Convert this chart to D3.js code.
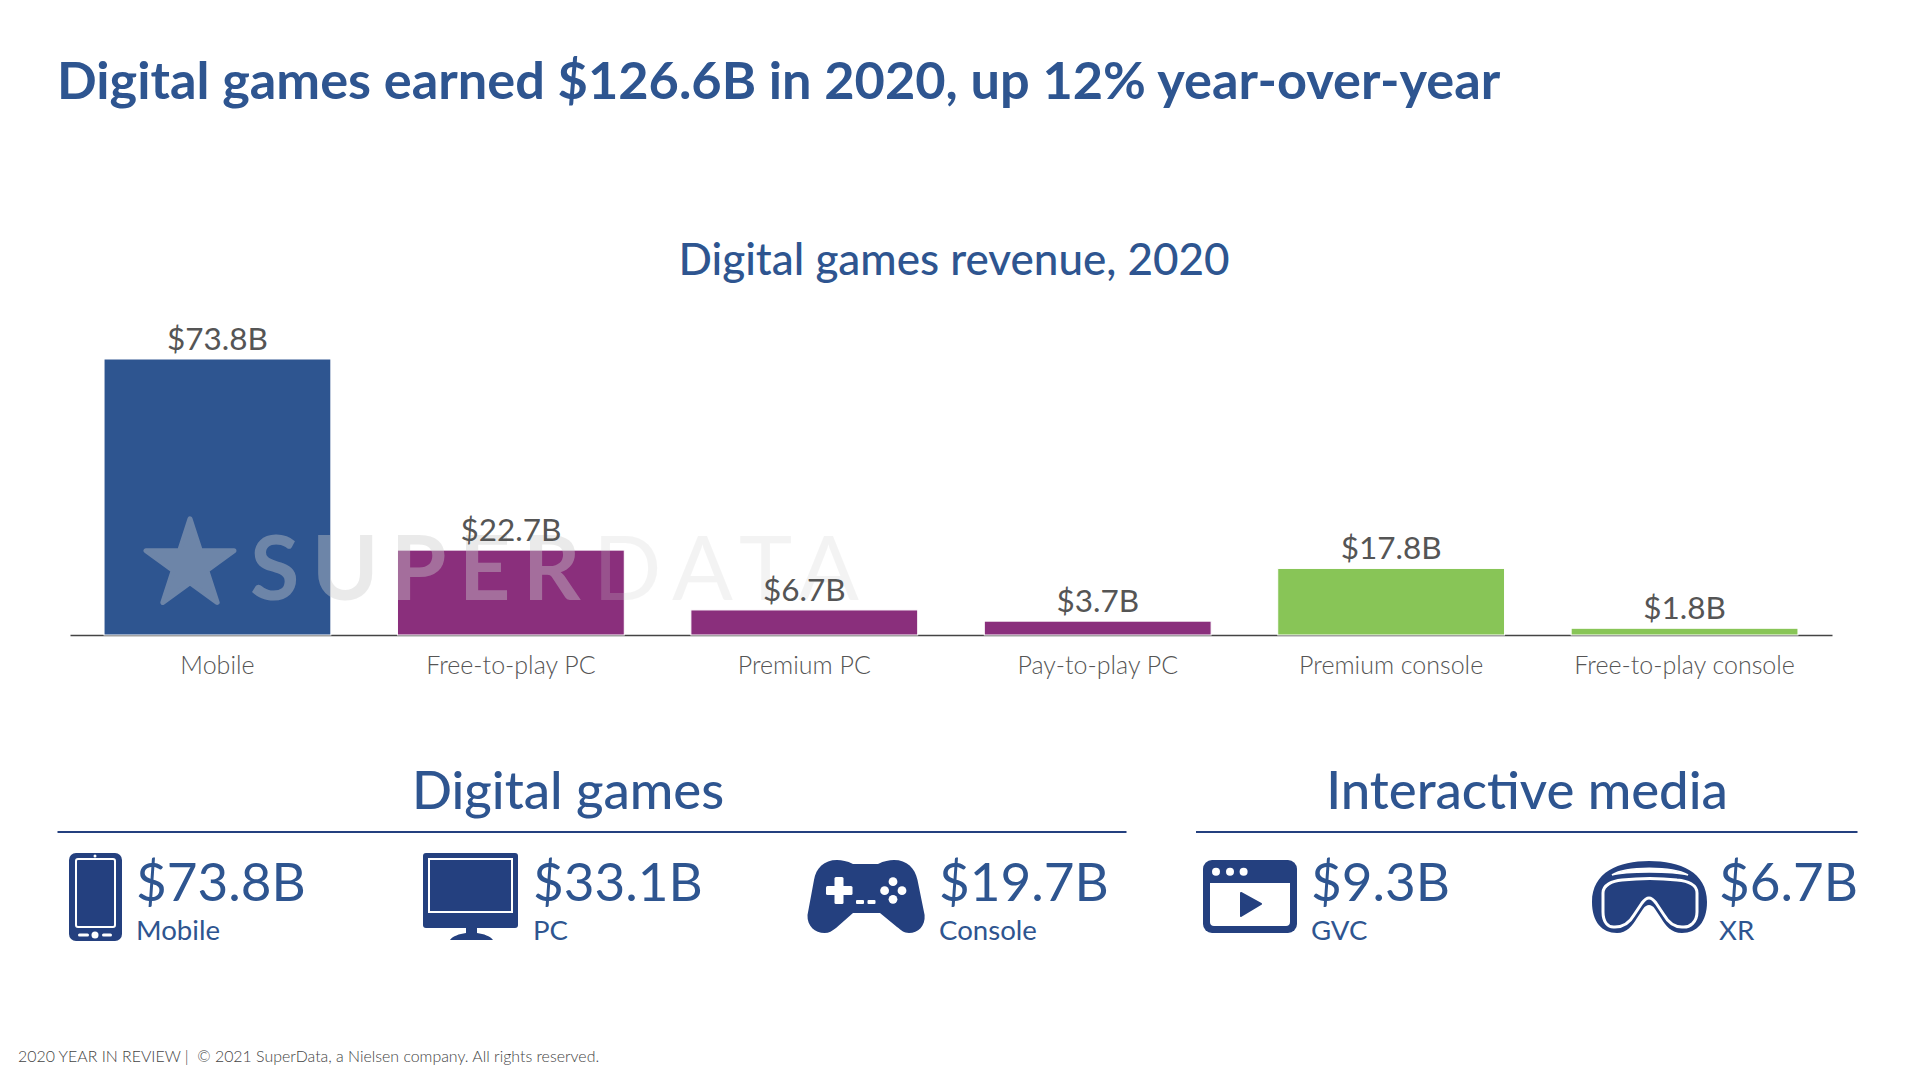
<!DOCTYPE html>
<html>
<head>
<meta charset="utf-8">
<script src="https://cdn.jsdelivr.net/npm/d3@7"></script>
<style>
  html, body { margin: 0; padding: 0; background: #fff; }
  svg { display: block; }
  text { font-family: Lato, "Open Sans", sans-serif; }
</style>
</head>
<body>
<svg id="chart" width="1920" height="1078"></svg>
<script>
var categories = ['Mobile', 'Free-to-play PC', 'Premium PC', 'Pay-to-play PC', 'Premium console', 'Free-to-play console'];
var revenue = [73.8, 22.7, 6.7, 3.7, 17.8, 1.8];
var platforms = ['mobile', 'pc', 'pc', 'pc', 'console', 'console'];

var groupNames = ['Digital games', 'Interactive media'];
var kpiValues = [73.8, 33.1, 19.7, 9.3, 6.7];
var kpiLabels = ['Mobile', 'PC', 'Console', 'GVC', 'XR'];

var BLUE = '#2e5590';
var NAVY = '#24407f';
var GREY = '#555';

var svg = d3.select('#chart');
var money = function (d) { return '$' + d + 'B'; };

svg.append('text')
  .attr('x', 57).attr('y', 99)
  .attr('font-size', 52.3).attr('font-weight', 700).attr('fill', BLUE)
  .text('Digital games earned $126.6B in 2020, up 12% year-over-year');

svg.append('text')
  .attr('x', 954).attr('y', 275)
  .attr('text-anchor', 'middle')
  .attr('font-size', 44).attr('font-weight', 500).attr('fill', BLUE)
  .text('Digital games revenue, 2020');

// bar chart
var x = d3.scaleBand()
  .domain(categories)
  .range([70, 1832])
  .paddingInner(0.227)
  .paddingOuter(0.116);
var y = d3.scaleLinear().domain([0, 73.8]).range([635, 359]);
var color = d3.scaleOrdinal()
  .domain(['mobile', 'pc', 'console'])
  .range([BLUE, '#8a2f7c', '#88c557']);

var axis = svg.append('g')
  .attr('transform', 'translate(0,' + y(0) + ')')
  .call(d3.axisBottom(x).tickSize(0).tickPadding(21));
axis.select('.domain').attr('stroke', '#444').attr('stroke-width', 1.5);
axis.selectAll('text')
  .attr('font-size', 25).attr('font-weight', 300)
  .attr('font-family', 'Lato').attr('fill', GREY);

svg.append('g').selectAll('rect')
  .data(revenue)
  .enter()
  .append('rect')
  .attr('x', function (d, i) { return x(categories[i]); })
  .attr('y', function (d) { return y(d); })
  .attr('width', x.bandwidth())
  .attr('height', function (d) { return y(0) - y(d); })
  .attr('fill', function (d, i) { return color(platforms[i]); })
  .attr('stroke', '#fff')
  .attr('stroke-width', 1);

// watermark
var mark = svg.append('g').attr('opacity', 0.4).attr('fill', '#cdcdcd');
mark.append('path')
  .attr('d', d3.symbol().type(d3.symbolStar).size(2400))
  .attr('transform', 'translate(190,565)')
  .attr('stroke', '#cdcdcd')
  .attr('stroke-width', 5)
  .attr('stroke-linejoin', 'round');
var word = mark.append('text')
  .attr('x', 250).attr('y', 600)
  .attr('font-size', 90).attr('letter-spacing', 12.3);
word.append('tspan').attr('font-weight', 700).text('SUPER');
word.append('tspan').attr('font-weight', 400).attr('opacity', 0.55).text('DATA');

svg.append('g').selectAll('text')
  .data(revenue)
  .enter()
  .append('text')
  .attr('x', function (d, i) { return x(categories[i]) + x.bandwidth() / 2; })
  .attr('y', function (d) { return y(d) - 9; })
  .attr('text-anchor', 'middle')
  .attr('font-size', 31.5).attr('fill', GREY)
  .text(money);

// summary section
var headings = [
  { x: 568, x0: 57.5, x1: 1126.5 },
  { x: 1527, x0: 1196, x1: 1857.5 }
];
headings.forEach(function (h, i) {
  svg.append('text')
    .attr('x', h.x).attr('y', 809)
    .attr('text-anchor', 'middle')
    .attr('font-size', 52.7).attr('font-weight', 500).attr('fill', BLUE)
    .text(groupNames[i]);
  svg.append('line')
    .attr('x1', h.x0).attr('x2', h.x1)
    .attr('y1', 832).attr('y2', 832)
    .attr('stroke', NAVY).attr('stroke-width', 2);
});

var kpiX = [136, 533, 939, 1311, 1719];
kpiValues.forEach(function (v, i) {
  svg.append('text')
    .attr('x', kpiX[i]).attr('y', 901)
    .attr('font-size', 53).attr('fill', BLUE)
    .text(money(v));
  svg.append('text')
    .attr('x', kpiX[i]).attr('y', 940)
    .attr('font-size', 27.6).attr('fill', BLUE)
    .text(kpiLabels[i]);
});

// icons
var icons = svg.append('g').attr('fill', NAVY);

var phone = icons.append('g');
phone.append('rect').attr('x', 69).attr('y', 853).attr('width', 53).attr('height', 88).attr('rx', 7);
phone.append('rect').attr('x', 76).attr('y', 859).attr('width', 39).attr('height', 68).attr('rx', 2)
  .attr('stroke', '#fff').attr('stroke-width', 2);
phone.append('circle').attr('cx', 95).attr('cy', 856).attr('r', 1.5).attr('fill', '#fff');
phone.append('circle').attr('cx', 95).attr('cy', 935).attr('r', 3.5).attr('fill', '#fff');
phone.append('rect').attr('x', 78).attr('y', 933.5).attr('width', 11).attr('height', 3).attr('rx', 1.5).attr('fill', '#fff');
phone.append('rect').attr('x', 102).attr('y', 933.5).attr('width', 10).attr('height', 3).attr('rx', 1.5).attr('fill', '#fff');

var monitor = icons.append('g');
monitor.append('rect').attr('x', 423).attr('y', 853).attr('width', 95).attr('height', 75).attr('rx', 3);
monitor.append('rect').attr('x', 429).attr('y', 859).attr('width', 83).attr('height', 53)
  .attr('stroke', '#fff').attr('stroke-width', 2);
monitor.append('path').attr('d', 'M466 927H477V933C484 934 490 936 493 940H450C453 936 459 934 466 933Z');

var pad = icons.append('g');
pad.append('path').attr('d', 'M853 864H878C884 861 889 860 894 860C907 860 915 868 917.5 880L924.6 915C925.5 926 918 933 909 933C904 933 901 930 897 927L880 913H853L836 928C832 931 829 933 824.6 933C815 933 807 926 807.5 915L814 880C816 868 824 860 837 860C842 860 847 861 853 864Z');
pad.append('rect').attr('x', 826).attr('y', 886).attr('width', 26.5).attr('height', 9).attr('rx', 1.5).attr('fill', '#fff');
pad.append('rect').attr('x', 834.5).attr('y', 877).attr('width', 9).attr('height', 27).attr('rx', 1.5).attr('fill', '#fff');
pad.append('g').attr('fill', '#fff').selectAll('circle')
  .data([[893, 881.7], [884.6, 890.7], [902, 890.7], [893, 899.3]])
  .enter().append('circle')
  .attr('cx', function (d) { return d[0]; })
  .attr('cy', function (d) { return d[1]; })
  .attr('r', 4.4);
pad.append('rect').attr('x', 856).attr('y', 900).attr('width', 8).attr('height', 4).attr('rx', 1).attr('fill', '#fff');
pad.append('rect').attr('x', 867.5).attr('y', 900).attr('width', 8).attr('height', 4).attr('rx', 1).attr('fill', '#fff');

var video = icons.append('g');
video.append('rect').attr('x', 1203).attr('y', 860).attr('width', 94).attr('height', 73).attr('rx', 9);
video.append('path').attr('d', 'M1210 883H1290V922C1290 924.5 1288.5 926 1286 926H1214C1211.5 926 1210 924.5 1210 922Z').attr('fill', '#fff');
video.append('path').attr('d', 'M1241 893L1261 904L1241 916Z').attr('stroke', NAVY).attr('stroke-width', 2).attr('stroke-linejoin', 'round');
video.append('g').attr('fill', '#fff').selectAll('circle')
  .data([1216, 1230, 1243.6])
  .enter().append('circle')
  .attr('cx', function (d) { return d; }).attr('cy', 871.7).attr('r', 4);

var goggles = icons.append('g');
goggles.append('path').attr('d', 'M1649 861C1680 861 1707 872 1707 902C1707 922 1697 933 1682 933C1671 933 1666 926 1661 918L1655 909C1653 906 1651 905 1649 905C1647 905 1645 906 1643 909L1637 918C1632 926 1627 933 1617 933C1602 933 1592 922 1592 902C1592 872 1619 861 1649 861Z');
goggles.append('path')
  .attr('d', 'M1603 893C1603 885 1612 881 1622 880C1640 878 1660 878 1677 880C1688 881 1697 885 1697 893V912C1697 922 1690 928 1682 927C1674 927 1668 922 1664 915L1656 903C1653 899 1651 898 1649 898C1647 898 1645 899 1642 903L1634 915C1630 922 1624 927 1615 927C1608 928 1603 922 1603 912Z')
  .attr('stroke', '#fff').attr('stroke-width', 3);
goggles.append('path').attr('d', 'M1612 875C1626 866 1672 866 1688 875C1672 871 1626 871 1612 875Z').attr('fill', '#fff').attr('stroke', '#fff').attr('stroke-width', 1.5);

svg.append('text')
  .attr('x', 18).attr('y', 1062)
  .attr('font-size', 15.9).attr('font-weight', 300).attr('fill', '#444')
  .attr('xml:space', 'preserve')
  .text('2020 YEAR IN REVIEW |  \u00a9 2021 SuperData, a Nielsen company. All rights reserved.');
</script>
</body>
</html>
